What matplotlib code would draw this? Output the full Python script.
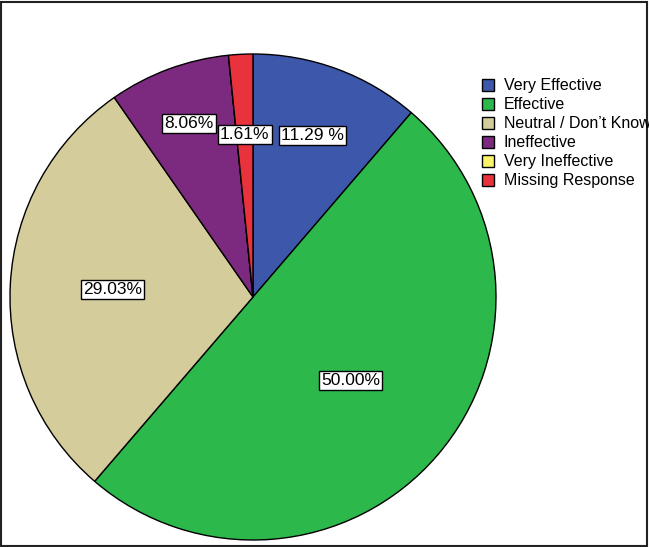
import numpy as np
import matplotlib.pyplot as plt
from matplotlib.patches import Rectangle

categories = ['Very Effective', 'Effective', 'Neutral / Don\u2019t Know',
              'Ineffective', 'Very Ineffective', 'Missing Response']
percents = [11.29, 50.00, 29.03, 8.06, 0.0, 1.61]
pct_labels = ['11.29 %', '50.00%', '29.03%', '8.06%', '', '1.61%']
colors = ['#3d58ab', '#2db84c', '#d4cc9a', '#7b2a7f', '#fbf46a', '#e8323c']
label_radius = [0.71, 0.53, 0.58, 0.76, 0.6, 0.67]

plt.rcParams['font.family'] = ['Liberation Sans', 'DejaVu Sans']

fig = plt.figure(figsize=(6.49, 5.47), dpi=100)
W, H = 649, 547
cx, cy, r = 253, 297, 243
ax = fig.add_axes([(cx - r) / W, (H - cy - r) / H, 2 * r / W, 2 * r / H])
wedges, _ = ax.pie(percents, colors=colors, startangle=90, counterclock=False,
                   radius=1.0, wedgeprops=dict(edgecolor='black', linewidth=1.0))
ax.set_xlim(-1, 1)
ax.set_ylim(-1, 1)
ax.set_aspect('auto')
ax.axis('off')

for w, txt, rr in zip(wedges, pct_labels, label_radius):
    if not txt:
        continue
    ang = np.deg2rad((w.theta1 + w.theta2) / 2.0)
    ax.text(rr * np.cos(ang), rr * np.sin(ang), txt, ha='center', va='center',
            fontsize=12.5, color='black',
            bbox=dict(boxstyle='square,pad=0.12', facecolor='white',
                      edgecolor='black', linewidth=1.0))

leg = fig.legend(wedges, categories, loc='upper left',
                 bbox_to_anchor=(476 / W, 1 - 72 / H), frameon=False,
                 fontsize=11.5, handlelength=0.75, handleheight=0.75,
                 handletextpad=0.6, labelspacing=0.25, borderaxespad=0)

fig.patches.append(Rectangle((0.5 / W, 1.5 / H), 1 - 3 / W, 1 - 3 / H,
                             transform=fig.transFigure, fill=False,
                             edgecolor='#222222', linewidth=1.5))

fig.savefig('out.png', dpi=100)
